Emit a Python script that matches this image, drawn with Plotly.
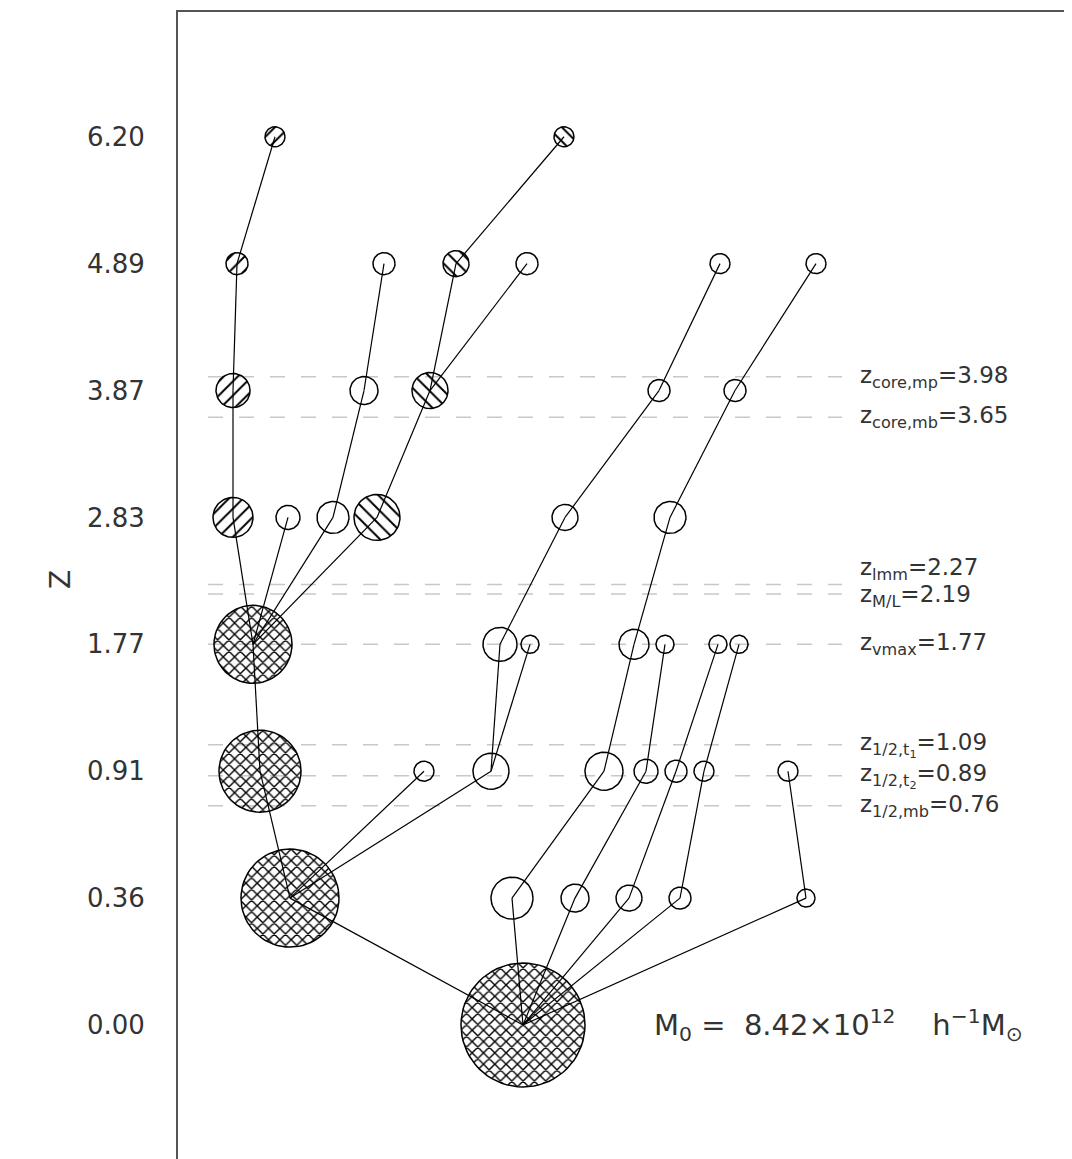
import numpy as np
import plotly.graph_objects as go

# ---------------- data ----------------
z_levels = [0.00, 0.36, 0.91, 1.77, 2.83, 3.87, 4.89, 6.20]
tick_text = ["0.00", "0.36", "0.91", "1.77", "2.83", "3.87", "4.89", "6.20"]

# node positions along the tree (arbitrary tree coordinate), per level (0 = z 0.00)
x_l0 = [3.45]
x_l1 = [1.12, 3.34, 3.97, 4.51, 5.02, 6.28]
x_l2 = [0.82, 2.46, 3.13, 4.26, 4.68, 4.98, 5.26, 6.10]
x_l3 = [0.75, 3.22, 3.52, 4.56, 4.87, 5.40, 5.61]
x_l4 = [0.55, 1.10, 1.55, 1.99, 3.87, 4.92]
x_l5 = [0.55, 1.86, 2.52, 4.81, 5.57]
x_l6 = [0.59, 2.06, 2.78, 3.49, 5.42, 6.38]
x_l7 = [0.97, 3.86]

# halo "mass radius" (circle radius, px)
m_l0 = [62]
m_l1 = [49, 21, 14, 13, 11, 9]
m_l2 = [41, 10, 18, 19, 12, 11, 10, 10]
m_l3 = [39, 17, 9, 15, 9, 9, 9]
m_l4 = [20, 12, 16, 23, 13, 16]
m_l5 = [17, 14, 18, 11, 11]
m_l6 = [11, 11, 13, 11, 10, 10]
m_l7 = [10, 10]

# index of descendant node on the level below
d_l1 = [0, 0, 0, 0, 0, 0]
d_l2 = [0, 0, 0, 1, 2, 3, 4, 5]
d_l3 = [0, 2, 2, 3, 4, 5, 6]
d_l4 = [0, 0, 0, 0, 1, 3]
d_l5 = [0, 2, 3, 4, 5]
d_l6 = [0, 1, 2, 2, 3, 4]
d_l7 = [0, 2]

# branch membership: 'mp' main progenitor, 'b1' first branch, 'b2' second branch, '' other
b_l0 = ["mp"]
b_l1 = ["mp", "", "", "", "", ""]
b_l2 = ["mp", "", "", "", "", "", "", ""]
b_l3 = ["mp", "", "", "", "", "", ""]
b_l4 = ["b1", "", "", "b2", "", ""]
b_l5 = ["b1", "", "b2", "", ""]
b_l6 = ["b1", "", "b2", "", "", ""]
b_l7 = ["b1", "b2"]

# characteristic redshifts
char_names = ["z<sub>core,mp</sub>=3.98", "z<sub>core,mb</sub>=3.65",
              "z<sub>lmm</sub>=2.27", "z<sub>M/L</sub>=2.19", "z<sub>vmax</sub>=1.77",
              "z<sub>1/2,t<sub>1</sub></sub>=1.09", "z<sub>1/2,t<sub>2</sub></sub>=0.89",
              "z<sub>1/2,mb</sub>=0.76"]
char_z = [3.98, 3.65, 2.27, 2.19, 1.77, 1.09, 0.89, 0.76]

NB = "\u00a0"
m0_text = ("M<sub>0</sub>" + NB + "=" + NB + NB + "8.42×10<sup>12</sup>" + NB * 4
           + "h<sup>−1</sup>M<sub>⊙</sub>")

# ---------------- layout geometry ----------------
W, H = 1064, 1151
ML, MR, MT, MB = 170, 0, 4, 0
xr = [0, 8.94]
yr = [-1.056, 7.983]
px_x = (W - ML - MR) / (xr[1] - xr[0])
px_y = (H - MT - MB) / (yr[1] - yr[0])

levels_x = [x_l0, x_l1, x_l2, x_l3, x_l4, x_l5, x_l6, x_l7]
levels_m = [m_l0, m_l1, m_l2, m_l3, m_l4, m_l5, m_l6, m_l7]
levels_d = [None, d_l1, d_l2, d_l3, d_l4, d_l5, d_l6, d_l7]
levels_b = [b_l0, b_l1, b_l2, b_l3, b_l4, b_l5, b_l6, b_l7]

fig = go.Figure()

# circles
pattern_of = {"mp": "x", "b1": "/", "b2": "\\", "": ""}
th = np.linspace(0, 2 * np.pi, 73)
groups = {}
for lev in range(8):
    for x, m, b in zip(levels_x[lev], levels_m[lev], levels_b[lev]):
        gx, gy = groups.setdefault(b, ([], []))
        gx.extend(list(x + m / px_x * np.cos(th)) + [None])
        gy.extend(list(lev + m / px_y * np.sin(th)) + [None])

for b, (gx, gy) in groups.items():
    shp = pattern_of[b]
    kw = {}
    if shp:
        kw = dict(fill="toself", fillcolor="rgba(0,0,0,0)",
                  fillpattern=dict(shape=shp, size=8 if shp == "x" else 10,
                                   solidity=0.32 if shp == "x" else 0.2,
                                   fgcolor="black", fgopacity=1,
                                   bgcolor="rgba(0,0,0,0)"))
    fig.add_trace(go.Scatter(x=gx, y=gy, mode="lines",
                             line=dict(color="black", width=1.5),
                             hoverinfo="skip", showlegend=False, **kw))

# links
lx, ly = [], []
for lev in range(1, 8):
    below = levels_x[lev - 1]
    for x, d in zip(levels_x[lev], levels_d[lev]):
        lx += [x, below[d], None]
        ly += [lev, lev - 1, None]
fig.add_trace(go.Scatter(x=lx, y=ly, mode="lines",
                         line=dict(color="black", width=1.2),
                         hoverinfo="skip", showlegend=False))

# characteristic redshift lines
lev_idx = np.arange(len(z_levels))
yshift = {2: 15, 3: -2}
for i, (name, zc) in enumerate(zip(char_names, char_z)):
    yl = float(np.interp(zc, z_levels, lev_idx))
    fig.add_shape(type="line", xref="x", yref="y", x0=0.30, x1=6.64, y0=yl, y1=yl,
                  line=dict(color="#c8c8c8", width=1.5, dash="15px,16px"), layer="below")
    fig.add_annotation(x=6.80, y=yl, xref="x", yref="y", text=name, showarrow=False,
                       xanchor="left", yanchor="middle", yshift=yshift.get(i, 0),
                       font=dict(family="DejaVu Sans", size=23, color="#333"))

fig.add_annotation(x=4.74, y=0, xref="x", yref="y", text=m0_text, showarrow=False,
                   xanchor="left", yanchor="middle",
                   font=dict(family="DejaVu Sans", size=29, color="#333"))

fig.add_annotation(x=(60 - 178) / (W - ML), y=(1159 - 580) / (H - MT), xref="paper",
                   yref="paper", text="Z", showarrow=False, textangle=-90,
                   xanchor="center", yanchor="middle",
                   font=dict(family="DejaVu Sans", size=28, color="#333"))

fig.update_layout(
    width=W, height=H, margin=dict(l=ML, r=MR, t=MT, b=MB),
    plot_bgcolor="white", paper_bgcolor="white",
    xaxis=dict(range=xr, side="top", showline=True, linecolor="#555", linewidth=2,
               showgrid=False, zeroline=False, showticklabels=False, ticks=""),
    yaxis=dict(range=yr, showline=True, linecolor="#555", linewidth=2,
               showgrid=False, zeroline=False, ticks="",
               tickvals=list(range(len(z_levels))), ticktext=tick_text,
               ticklabelstandoff=26,
               tickfont=dict(family="DejaVu Sans", size=26, color="#333")),
)

fig.write_html("out.html")
